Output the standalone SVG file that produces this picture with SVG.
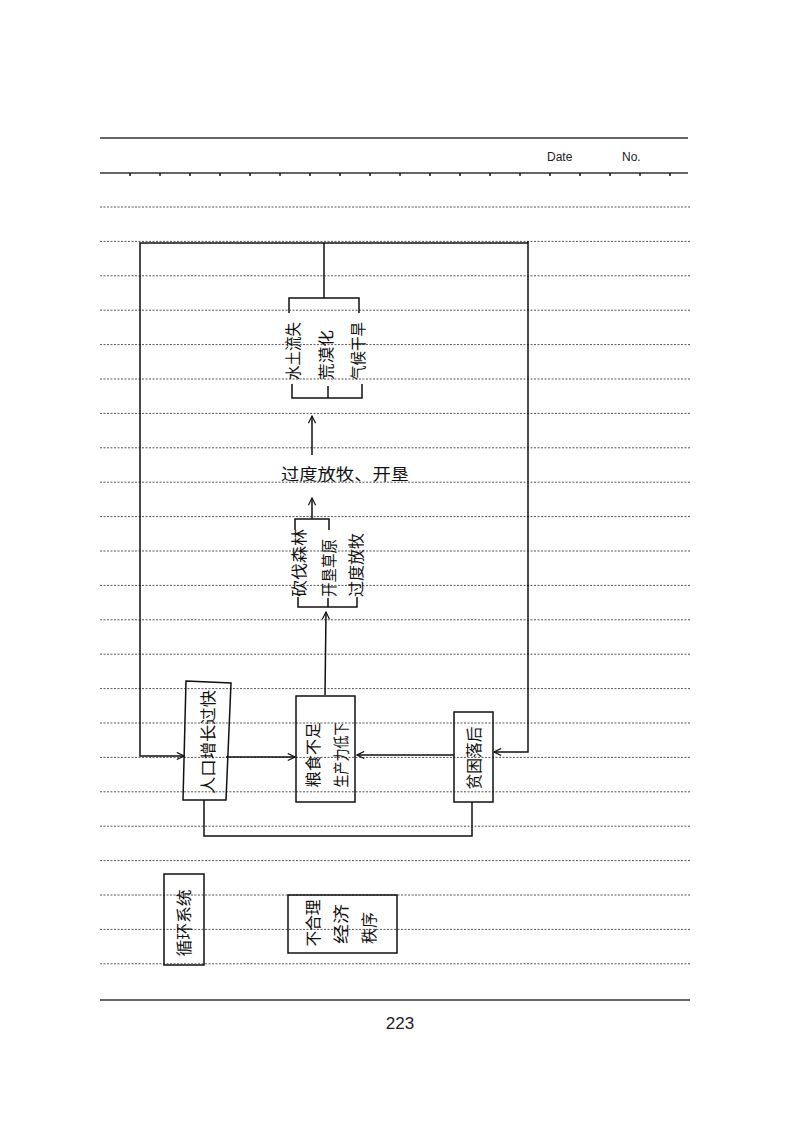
<svg xmlns="http://www.w3.org/2000/svg" width="800" height="1132" viewBox="0 0 800 1132">
<style>
.bg{fill:#ffffff}
.rule{stroke:#555;stroke-width:1;stroke-dasharray:2 1.5;fill:none}
.solid{stroke:#333;stroke-width:1.5;fill:none}
.ln{stroke:#111;stroke-width:1.5;fill:none}
.box{stroke:#111;stroke-width:1.5;fill:none}
.t{font-family:"Noto Sans CJK SC","Noto Sans CJK TC",sans-serif;font-size:16px;fill:#111;text-anchor:middle;dominant-baseline:central}
.hdr{font-family:"Liberation Sans",Arial,sans-serif;font-size:12px;fill:#222}
.pg{font-family:"Liberation Sans",Arial,sans-serif;font-size:17px;fill:#222;text-anchor:middle}
</style>
<defs>
<marker id="arr" viewBox="0 0 10 10" refX="9" refY="5" markerWidth="9" markerHeight="9" markerUnits="userSpaceOnUse" orient="auto">
<path d="M1,1 L9,5 L1,9" fill="none" stroke="#111" stroke-width="1.3"/>
</marker>
</defs>
<rect class="bg" x="0" y="0" width="800" height="1132"/>
<g id="page">
<line class="solid" x1="100" y1="138" x2="688" y2="138"/>
<line class="solid" x1="100" y1="173" x2="688" y2="173"/>
<path class="ln" stroke-width="1" d="M130,173v3 M160,173v3 M190,173v3 M220,173v3 M250,173v3 M280,173v3 M310,173v3 M340,173v3 M370,173v3 M400,173v3 M430,173v3 M460,173v3 M490,173v3 M520,173v3 M550,173v3 M580,173v3 M610,173v3 M640,173v3 M670,173v3"/>
<text class="hdr" x="547" y="161">Date</text>
<text class="hdr" x="622" y="161">No.</text>
<g id="rules">
<line class="rule" x1="100" y1="207" x2="690" y2="207"/>
<line class="rule" x1="100" y1="241.4" x2="690" y2="241.4"/>
<line class="rule" x1="100" y1="275.8" x2="690" y2="275.8"/>
<line class="rule" x1="100" y1="310.2" x2="690" y2="310.2"/>
<line class="rule" x1="100" y1="344.6" x2="690" y2="344.6"/>
<line class="rule" x1="100" y1="379" x2="690" y2="379"/>
<line class="rule" x1="100" y1="413.4" x2="690" y2="413.4"/>
<line class="rule" x1="100" y1="447.8" x2="690" y2="447.8"/>
<line class="rule" x1="100" y1="482.2" x2="690" y2="482.2"/>
<line class="rule" x1="100" y1="516.6" x2="690" y2="516.6"/>
<line class="rule" x1="100" y1="551" x2="690" y2="551"/>
<line class="rule" x1="100" y1="585.4" x2="690" y2="585.4"/>
<line class="rule" x1="100" y1="619.8" x2="690" y2="619.8"/>
<line class="rule" x1="100" y1="654.2" x2="690" y2="654.2"/>
<line class="rule" x1="100" y1="688.6" x2="690" y2="688.6"/>
<line class="rule" x1="100" y1="723" x2="690" y2="723"/>
<line class="rule" x1="100" y1="757.4" x2="690" y2="757.4"/>
<line class="rule" x1="100" y1="791.8" x2="690" y2="791.8"/>
<line class="rule" x1="100" y1="826.2" x2="690" y2="826.2"/>
<line class="rule" x1="100" y1="860.6" x2="690" y2="860.6"/>
<line class="rule" x1="100" y1="895" x2="690" y2="895"/>
<line class="rule" x1="100" y1="929.4" x2="690" y2="929.4"/>
<line class="rule" x1="100" y1="963.8" x2="690" y2="963.8"/>
</g>
<line class="solid" x1="100" y1="1000" x2="690" y2="1000"/>
<text class="pg" x="400" y="1029">223</text>
</g>

<g id="connectors">
<path class="ln" d="M528,243 L140,243 L140,756 L184,756" marker-end="url(#arr)"/>
<path class="ln" d="M528,241 L528,752 L494,752" marker-end="url(#arr)"/>
<path class="ln" d="M324,243 L324,298"/>
<path class="ln" d="M289,313 L289,298 L359,298 L359,313"/>
<path class="ln" d="M292,384 L292,398 L362,398 L362,384 M328,398 L328,386"/>
<path class="ln" d="M312,455 L312,416" marker-end="url(#arr)"/>
<path class="ln" d="M312,519 L312,498" marker-end="url(#arr)"/>
<path class="ln" d="M295,530 L295,519 L329,519 L329,530"/>
<path class="ln" d="M298,597 L298,607 L357,607 L357,597 M328,607 L328,598"/>
<path class="ln" d="M325,695 L326,612" marker-end="url(#arr)"/>
<path class="ln" d="M226,757 L295,757" marker-end="url(#arr)"/>
<path class="ln" d="M454,755 L357,755" marker-end="url(#arr)"/>
<path class="ln" d="M204,800 L204,836 L472,836 L472,802"/>
</g>

<g id="n-desert">
<text class="t" transform="translate(292,351) rotate(-90)" textLength="58" lengthAdjust="spacingAndGlyphs">水土流失</text>
<text class="t" transform="translate(325,355) rotate(-90)" textLength="50" lengthAdjust="spacingAndGlyphs">荒漠化</text>
<text class="t" transform="translate(357,351) rotate(-90)" textLength="58" lengthAdjust="spacingAndGlyphs">气候干旱</text>
</g>

<g id="n-overgraze">
<text class="t" x="345" y="473" font-size="17" textLength="128" lengthAdjust="spacingAndGlyphs">过度放牧、开垦</text>
</g>

<g id="n-causes">
<text class="t" transform="translate(298,563) rotate(-90)" textLength="68" lengthAdjust="spacingAndGlyphs">砍伐森林</text>
<text class="t" transform="translate(328,568) rotate(-90)" textLength="58" lengthAdjust="spacingAndGlyphs">开垦草原</text>
<text class="t" transform="translate(355,565) rotate(-90)" textLength="64" lengthAdjust="spacingAndGlyphs">过度放牧</text>
</g>

<g id="n-population">
<polygon class="box" points="186,681 231,683 226,800 183,800"/>
<text class="t" transform="translate(207,742) rotate(-90)" textLength="104" lengthAdjust="spacingAndGlyphs">人口增长过快</text>
</g>

<g id="n-food">
<rect class="box" x="296" y="696" width="59" height="106"/>
<text class="t" transform="translate(312,755) rotate(-90)" textLength="65" lengthAdjust="spacingAndGlyphs">粮食不足</text>
<text class="t" transform="translate(340,755) rotate(-90)" textLength="65" lengthAdjust="spacingAndGlyphs">生产力低下</text>
</g>

<g id="n-poverty">
<rect class="box" x="454" y="712" width="39" height="90"/>
<text class="t" transform="translate(473,758) rotate(-90)" textLength="63" lengthAdjust="spacingAndGlyphs">贫困落后</text>
</g>

<g id="n-cycle">
<rect class="box" x="164" y="874" width="40" height="91"/>
<text class="t" transform="translate(183,923) rotate(-90)" textLength="67" lengthAdjust="spacingAndGlyphs">循环系统</text>
</g>

<g id="n-order">
<rect class="box" x="288" y="895" width="109" height="58"/>
<text class="t" transform="translate(312,923) rotate(-90)" textLength="47" lengthAdjust="spacingAndGlyphs">不合理</text>
<text class="t" transform="translate(340,924) rotate(-90)" textLength="40" lengthAdjust="spacingAndGlyphs">经济</text>
<text class="t" transform="translate(368,928) rotate(-90)" textLength="32" lengthAdjust="spacingAndGlyphs">秩序</text>
</g>
</svg>
